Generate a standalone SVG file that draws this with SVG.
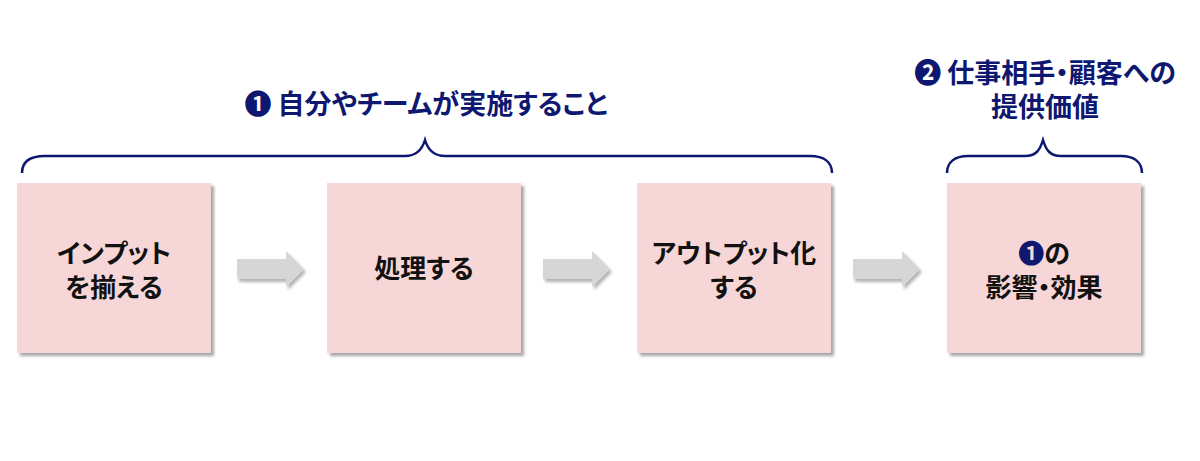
<svg xmlns="http://www.w3.org/2000/svg" width="1200" height="461" viewBox="0 0 1200 461">
<defs>
<filter id="sh" x="-10%" y="-10%" width="130%" height="130%">
<feDropShadow dx="3" dy="3" stdDeviation="1.8" flood-color="#000" flood-opacity="0.35"/>
</filter>
<filter id="ash" x="-20%" y="-30%" width="150%" height="170%">
<feDropShadow dx="2" dy="3" stdDeviation="1.5" flood-color="#000" flood-opacity="0.3"/>
</filter>
</defs>
<style>
.box{fill:#f6d6d7;filter:url(#sh)}
.t{font-family:"Noto Sans CJK JP","Noto Sans CJK SC",sans-serif;font-weight:bold;font-size:26px;fill:#111;text-anchor:middle;font-feature-settings:"palt"}
.h{font-family:"Noto Sans CJK JP","Noto Sans CJK SC",sans-serif;font-weight:bold;font-size:27px;fill:#0e1870;text-anchor:middle;font-feature-settings:"palt"}
.brace{fill:none;stroke:#0e1870;stroke-width:2.5}
.arr{fill:#d6d6d6;filter:url(#ash)}
</style>
<rect width="1200" height="461" fill="#fff"/>
<g id="title1"><text class="h" x="426" y="114">❶ 自分やチームが実施すること</text></g>
<g id="title2"><text class="h" x="1045" y="83">❷ 仕事相手・顧客への</text><text class="h" x="1045" y="117">提供価値</text></g>
<g id="brace1"><path class="brace" d="M22,173 C22,162 30,156 45,156 L405,156 C416,156 422,150 425,140 C428,150 434,156 445,156 L810,156 C824,156 832,162 832,173"/></g>
<g id="brace2"><path class="brace" d="M947,173 C947,162 955,156 968,156 L1025,156 C1036,156 1040,150 1043,140 C1046,150 1050,156 1061,156 L1121,156 C1134,156 1142,162 1142,173"/></g>
<g id="n1"><rect class="box" x="17" y="183" width="194" height="170"/><text class="t" x="114" y="263">インプット</text><text class="t" x="114" y="297">を揃える</text></g>
<g id="n2"><rect class="box" x="327" y="183" width="194" height="170"/><text class="t" x="424" y="278">処理する</text></g>
<g id="n3"><rect class="box" x="637" y="183" width="194" height="170"/><text class="t" x="734" y="263">アウトプット化</text><text class="t" x="734" y="297">する</text></g>
<g id="n4"><rect class="box" x="947" y="183" width="194" height="170"/><text class="t" x="1044" y="263"><tspan fill="#0e1870">❶</tspan>の</text><text class="t" x="1044" y="297">影響・効果</text></g>
<g id="connectors">
<path class="arr" d="M237,259 L286,259 L286,251 L304,269 L286,287 L286,279 L237,279 Z"/>
<path class="arr" d="M543,259 L592,259 L592,251 L610,269 L592,287 L592,279 L543,279 Z"/>
<path class="arr" d="M853,259 L902,259 L902,251 L920,269 L902,287 L902,279 L853,279 Z"/>
</g>
</svg>
